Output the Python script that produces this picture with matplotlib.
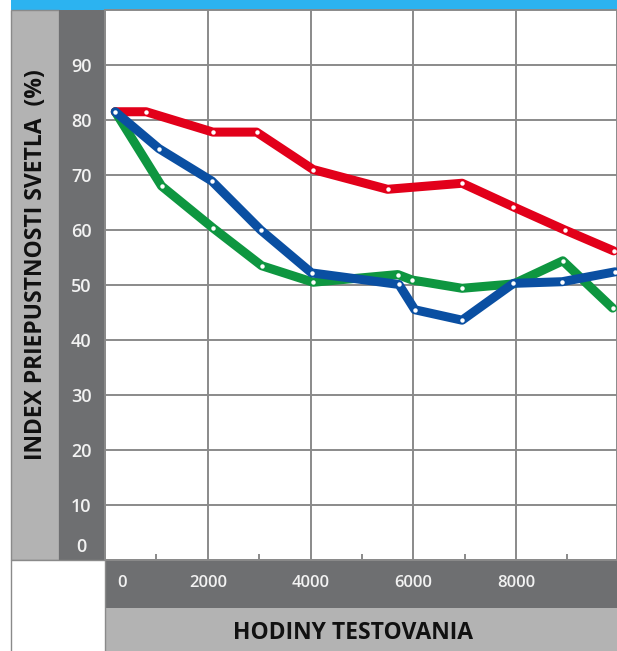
import matplotlib
matplotlib.use("Agg")
import matplotlib.pyplot as plt
from matplotlib.patches import Rectangle
from matplotlib.transforms import ScaledTranslation

# ---------------- data ----------------
red_x = [200, 800, 2100, 2950, 4050, 5500, 6950, 7950, 8950, 9900]
red_y = [81.5, 81.5, 77.8, 77.8, 71.0, 67.4, 68.5, 64.2, 60.0, 56.2]

blue_x = [200, 1050, 2080, 3030, 4020, 5720, 6030, 6950, 7950, 8900, 9930]
blue_y = [81.5, 74.8, 68.9, 60.0, 52.2, 50.1, 45.5, 43.6, 50.3, 50.6, 52.4]

green_x = [200, 1100, 2110, 3050, 4050, 5700, 5980, 6950, 7950, 8910, 9880]
green_y = [81.5, 68.0, 60.3, 53.5, 50.5, 51.9, 50.9, 49.4, 50.2, 54.4, 45.8]

x_ticks = [0, 2000, 4000, 6000, 8000]
x_minor = [1000, 3000, 5000, 7000, 9000]
y_ticks = [0, 10, 20, 30, 40, 50, 60, 70, 80, 90]

X_LABEL = "HODINY TESTOVANIA"
Y_LABEL = "INDEX PRIEPUSTNOSTI SVETLA  (%)"

# ---------------- colours ----------------
RED = "#e2001a"
BLUE = "#0a4fa2"
GREEN = "#0e9640"
LIGHT = "#b3b3b3"
DARK = "#6e6f71"
SKY = "#2cb3f0"
GRID = "#8a8a8a"

W, H = 617, 651


def box(fig, x0, y0, x1, y1, color, ec="none", z=0):
    # pixel box (top-left origin) -> figure rectangle
    r = Rectangle((x0 / W, 1 - y1 / H), (x1 - x0) / W, (y1 - y0) / H,
                  transform=fig.transFigure, facecolor=color,
                  edgecolor=ec, lw=1.0, zorder=z)
    fig.add_artist(r)


fig = plt.figure(figsize=(W / 100, H / 100), dpi=100)

# background bands
box(fig, 11, 0, 617, 10, SKY)
box(fig, 11, 10, 59, 560, LIGHT, ec=GRID)
box(fig, 59, 10, 105, 560, DARK)
box(fig, 105, 560, 617, 608, DARK)
box(fig, 105, 608, 617, 651, LIGHT)
box(fig, 11, 560, 105, 652, "white", ec=GRID)

ax = fig.add_axes([105 / W, 1 - 560 / H, 512 / W, 550 / H])
ax.set_facecolor("white")

ax.plot(green_x, green_y, color=GREEN, lw=6.5, solid_joinstyle="round",
        solid_capstyle="round", marker="o", ms=3.2, mfc="white", mew=0, zorder=3)
ax.plot(red_x, red_y, color=RED, lw=6.5, solid_joinstyle="round",
        solid_capstyle="round", marker="o", ms=3.2, mfc="white", mew=0, zorder=4)
ax.plot(blue_x, blue_y, color=BLUE, lw=6.5, solid_joinstyle="round",
        solid_capstyle="round", marker="o", ms=3.2, mfc="white", mew=0, zorder=5)

ax.set_xlim(0, 9965)
ax.set_ylim(0, 100)
ax.set_xticks(x_ticks)
ax.set_xticks(x_minor, minor=True)
ax.set_yticks(y_ticks)
ax.grid(True, which="major", color=GRID, lw=1.4)
ax.set_axisbelow(True)

for s in ax.spines.values():
    s.set_color(GRID)
    s.set_linewidth(1.4)

ax.tick_params(axis="both", which="major", length=0, labelcolor="#f2f2f2")
ax.tick_params(axis="x", which="minor", direction="in", length=4,
               width=1.4, color=GRID)
ax.tick_params(axis="x", pad=11, labelsize=12)
ax.tick_params(axis="y", pad=17, labelsize=13)

for lab in ax.get_yticklabels():
    lab.set_ha("center")
    lab.set_family("Open Sans")
    lab.set_fontweight("semibold")
for lab in ax.get_xticklabels():
    lab.set_family("Open Sans")
    lab.set_fontweight("semibold")

# the zero labels sit inside their bands in the original
xl0 = ax.get_xticklabels()[0]
xl0.set_transform(xl0.get_transform() + ScaledTranslation(0.17, 0, fig.dpi_scale_trans))
yl0 = ax.get_yticklabels()[0]
yl0.set_transform(yl0.get_transform() + ScaledTranslation(0, 0.15, fig.dpi_scale_trans))

fig.text(353 / W, 1 - 633 / H, X_LABEL, ha="center", va="center",
         fontsize=16.5, fontweight="bold", family="Open Sans", color="#111111")
fig.text(36 / W, 1 - 265 / H, Y_LABEL, ha="center", va="center",
         rotation=90, fontsize=16.5, fontweight="bold", family="Open Sans",
         color="#111111")

fig.savefig("out.png", dpi=100)
